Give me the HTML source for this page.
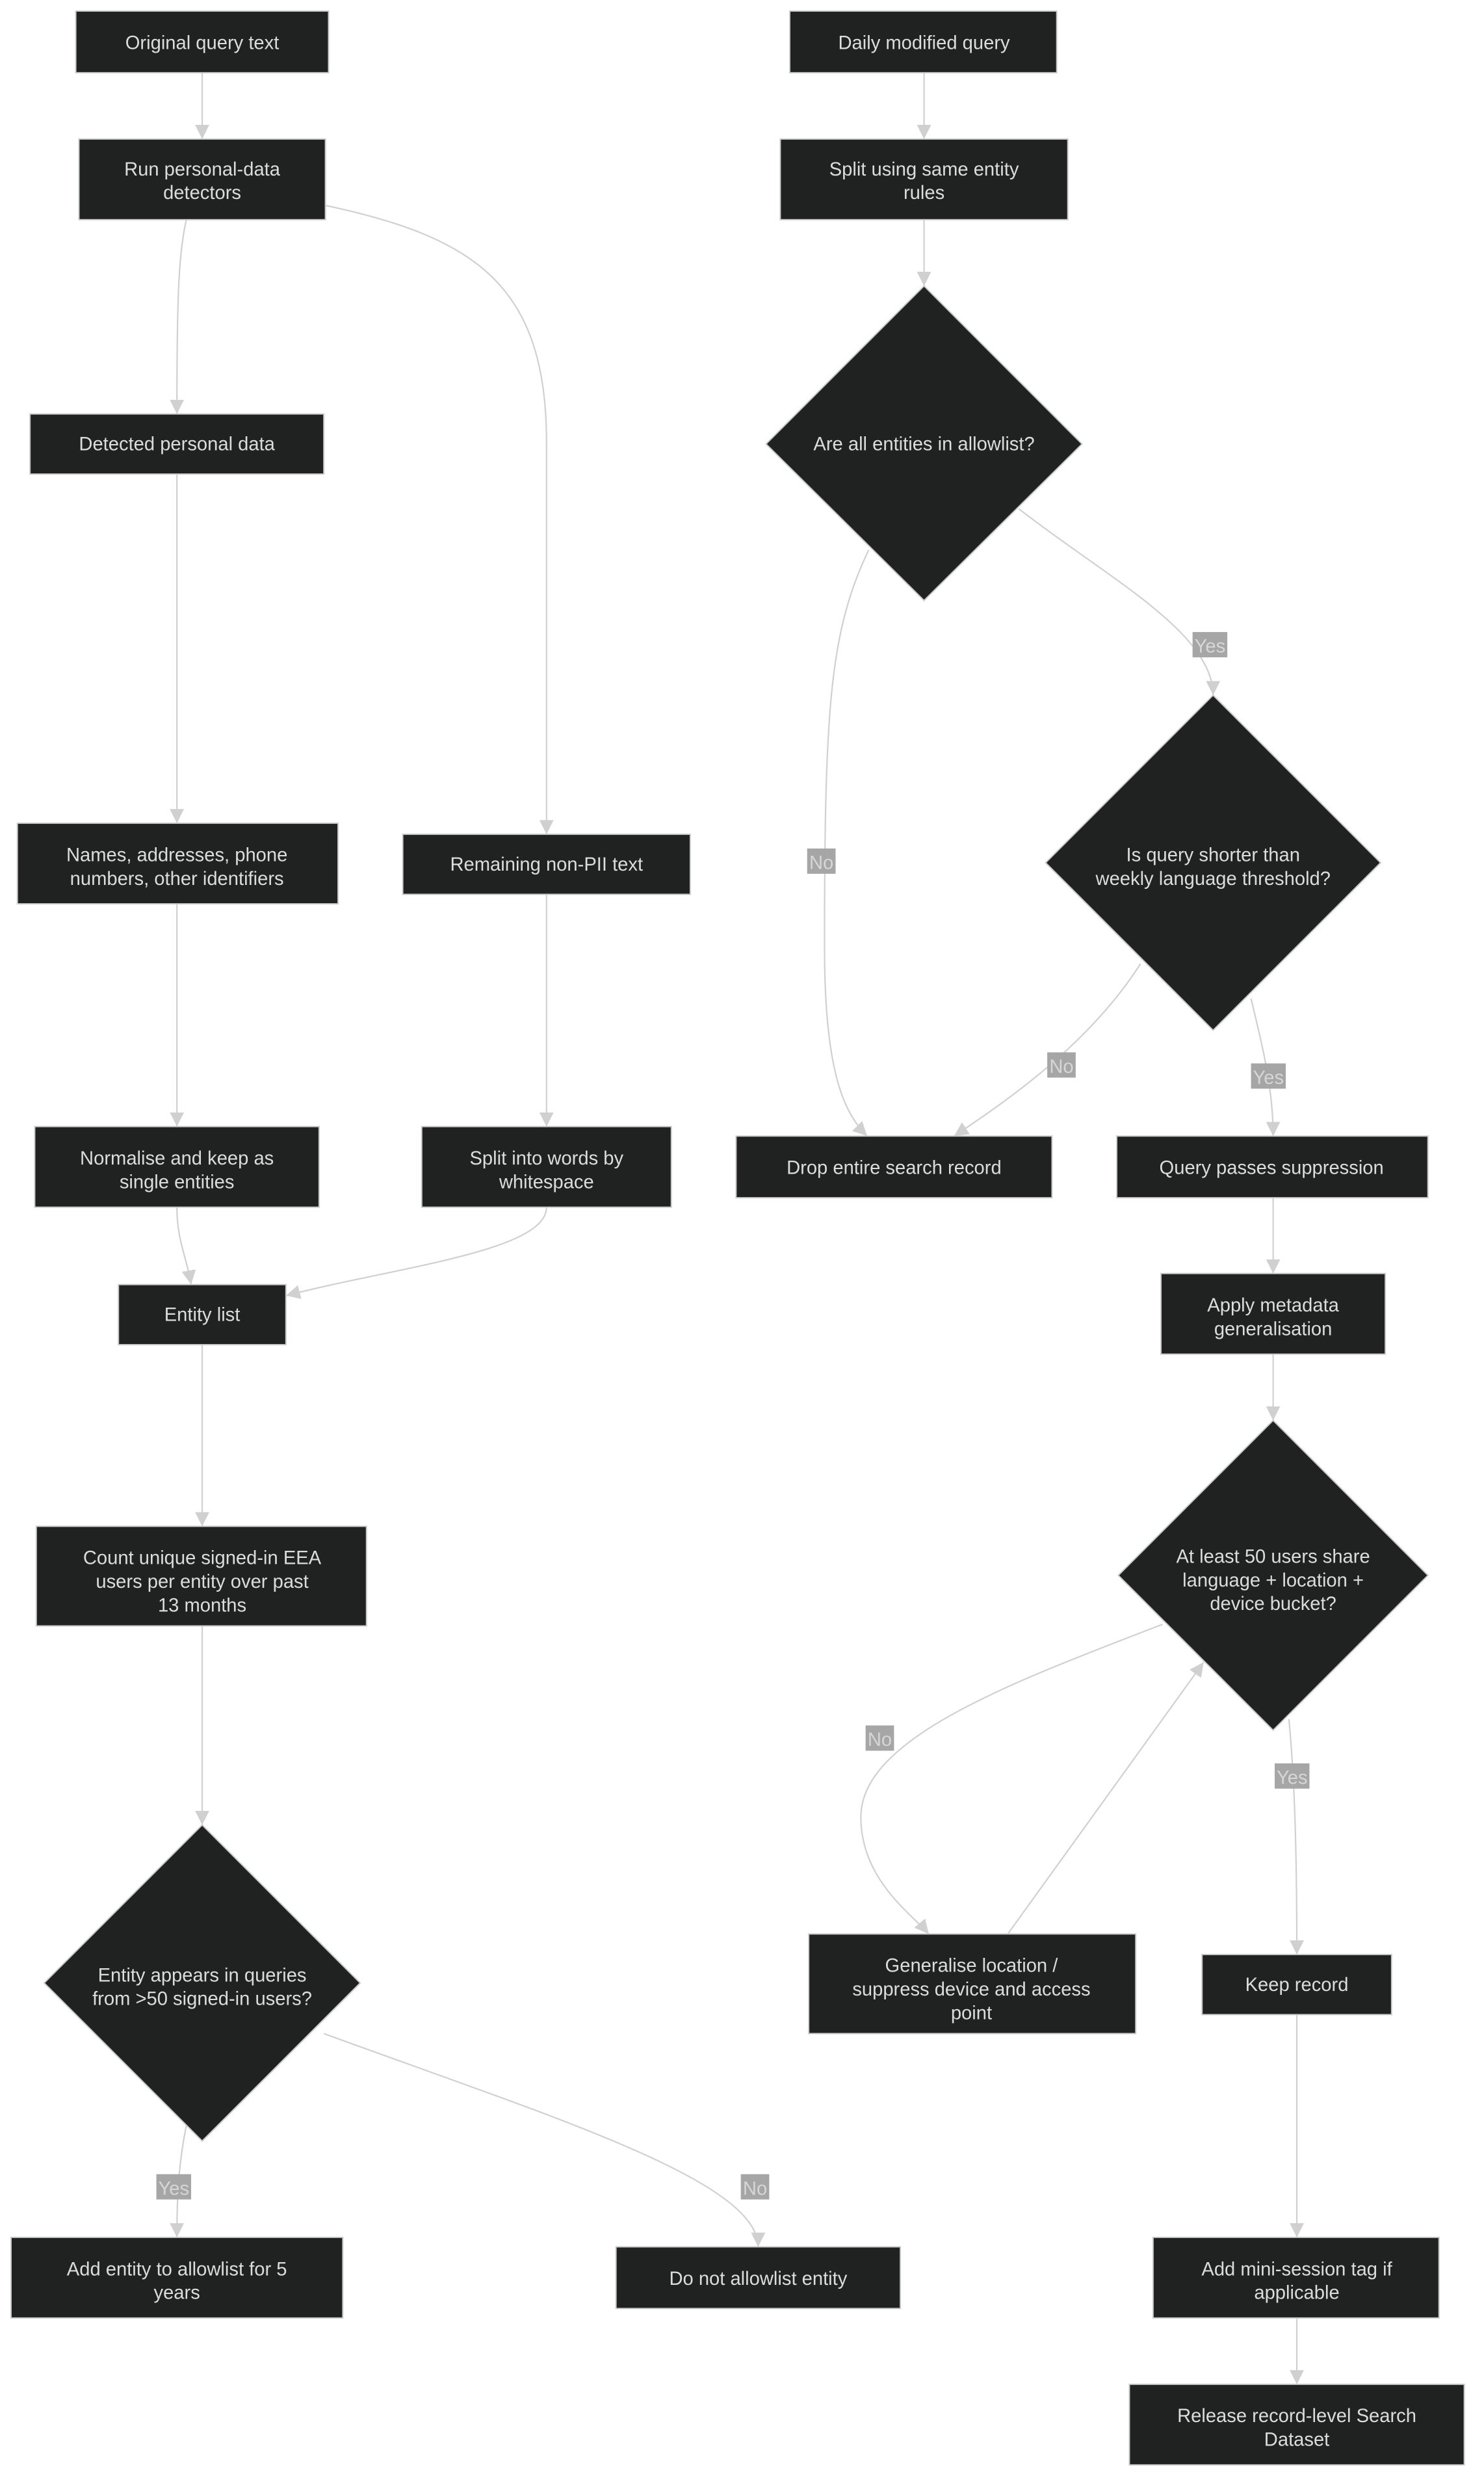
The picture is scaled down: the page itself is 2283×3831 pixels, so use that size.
<!DOCTYPE html>
<html><head><meta charset="utf-8">
<style>
html,body{margin:0;padding:0;background:#fff;}
svg{display:block;}
text{font-family:"Liberation Sans","DejaVu Sans",sans-serif;fill:#dcdcdc;font-size:12px;text-anchor:middle;}
.n{fill:#202221;stroke:#c8c8c8;stroke-width:0.8;}
.e{fill:none;stroke:#d0d0d0;stroke-width:0.9;}
.lb{fill:#a6a6a6;}
.lt{fill:#d6d6d6;font-size:12px;}
</style></head><body>
<svg width="2283" height="3831" viewBox="0 0 939.5 1576.5" xmlns="http://www.w3.org/2000/svg">
<defs>
<marker id="a" markerUnits="userSpaceOnUse" markerWidth="9" markerHeight="9" viewBox="0 0 10 10" refX="10" refY="5" orient="auto">
<path d="M0,0 L10,5 L0,10 z" fill="#d0d0d0"/>
</marker>
</defs>
<rect width="939.5" height="1576.5" fill="#fff"/>

<!-- edges -->
<path class="e" marker-end="url(#a)" d="M128,46 L128,88"/>
<path class="e" marker-end="url(#a)" d="M118,139 C113,160 112,190 112,262"/>
<path class="e" marker-end="url(#a)" d="M206,130 C300,150 346,180 346,280 L346,528"/>
<path class="e" marker-end="url(#a)" d="M112,300 L112,521"/>
<path class="e" marker-end="url(#a)" d="M112,572 L112,713"/>
<path class="e" marker-end="url(#a)" d="M346,566 L346,713"/>
<path class="e" marker-end="url(#a)" d="M112,764 C112,785 118,795 121,813"/>
<path class="e" marker-end="url(#a)" d="M346,764 C346,792 250,802 181,820"/>
<path class="e" marker-end="url(#a)" d="M128,851 L128,966"/>
<path class="e" marker-end="url(#a)" d="M128,1029 L128,1155"/>
<path class="e" marker-end="url(#a)" d="M118,1345 C113,1370 112,1390 112,1416"/>
<path class="e" marker-end="url(#a)" d="M205,1287 C350,1340 480,1380 480,1422"/>

<path class="e" marker-end="url(#a)" d="M585,46 L585,88"/>
<path class="e" marker-end="url(#a)" d="M585,139 L585,181"/>
<path class="e" marker-end="url(#a)" d="M550,348 C525,400 522,450 522,600 C522,680 535,705 549,719"/>
<path class="e" marker-end="url(#a)" d="M645,322 C700,365 768,400 768,440"/>
<path class="e" marker-end="url(#a)" d="M722,610 C690,660 640,695 604,719"/>
<path class="e" marker-end="url(#a)" d="M792,632 C800,665 806,690 806,719"/>
<path class="e" marker-end="url(#a)" d="M806,758 L806,806"/>
<path class="e" marker-end="url(#a)" d="M806,857 L806,899"/>
<path class="e" marker-end="url(#a)" d="M736,1028 C640,1065 545,1100 545,1150 C545,1190 578,1212 588,1224"/>
<path class="e" marker-end="url(#a)" d="M638,1224 L762,1052"/>
<path class="e" marker-end="url(#a)" d="M816,1088 C820,1130 821,1180 821,1237"/>
<path class="e" marker-end="url(#a)" d="M821,1275 L821,1416"/>
<path class="e" marker-end="url(#a)" d="M821,1467 L821,1509"/>

<!-- edge labels -->
<rect class="lb" x="99" y="1376" width="22" height="16"/><text class="lt" x="110" y="1389">Yes</text>
<rect class="lb" x="469" y="1376" width="18" height="16"/><text class="lt" x="478" y="1389">No</text>
<rect class="lb" x="511" y="537" width="18" height="16"/><text class="lt" x="520" y="550">No</text>
<rect class="lb" x="755" y="400" width="22" height="16"/><text class="lt" x="766" y="413">Yes</text>
<rect class="lb" x="663" y="666" width="18" height="16"/><text class="lt" x="672" y="679">No</text>
<rect class="lb" x="792" y="673" width="22" height="16"/><text class="lt" x="803" y="686">Yes</text>
<rect class="lb" x="548" y="1092" width="18" height="16"/><text class="lt" x="557" y="1105">No</text>
<rect class="lb" x="807" y="1116" width="22" height="16"/><text class="lt" x="818" y="1129">Yes</text>

<!-- left nodes -->
<rect class="n" x="48" y="7" width="160" height="39"/><text x="128" y="31">Original query text</text>
<rect class="n" x="50" y="88" width="156" height="51"/><text x="128" y="111">Run personal-data</text><text x="128" y="126">detectors</text>
<rect class="n" x="19" y="262" width="186" height="38"/><text x="112" y="285">Detected personal data</text>
<rect class="n" x="11" y="521" width="203" height="51"/><text x="112" y="545">Names, addresses, phone</text><text x="112" y="560">numbers, other identifiers</text>
<rect class="n" x="255" y="528" width="182" height="38"/><text x="346" y="551">Remaining non-PII text</text>
<rect class="n" x="22" y="713" width="180" height="51"/><text x="112" y="737">Normalise and keep as</text><text x="112" y="752">single entities</text>
<rect class="n" x="267" y="713" width="158" height="51"/><text x="346" y="737">Split into words by</text><text x="346" y="752">whitespace</text>
<rect class="n" x="75" y="813" width="106" height="38"/><text x="128" y="836">Entity list</text>
<rect class="n" x="23" y="966" width="209" height="63"/><text x="128" y="990">Count unique signed-in EEA</text><text x="128" y="1005">users per entity over past</text><text x="128" y="1020">13 months</text>
<polygon class="n" points="128,1155 228,1255 128,1355 28,1255"/><text x="128" y="1254">Entity appears in queries</text><text x="128" y="1269">from &gt;50 signed-in users?</text>
<rect class="n" x="7" y="1416" width="210" height="51"/><text x="112" y="1440">Add entity to allowlist for 5</text><text x="112" y="1455">years</text>
<rect class="n" x="390" y="1422" width="180" height="39"/><text x="480" y="1446">Do not allowlist entity</text>

<!-- right nodes -->
<rect class="n" x="500" y="7" width="169" height="39"/><text x="585" y="31">Daily modified query</text>
<rect class="n" x="494" y="88" width="182" height="51"/><text x="585" y="111">Split using same entity</text><text x="585" y="126">rules</text>
<polygon class="n" points="585,181 685,281 585,380 485,281"/><text x="585" y="285">Are all entities in allowlist?</text>
<polygon class="n" points="768,440 874,546 768,652 662,546"/><text x="768" y="545">Is query shorter than</text><text x="768" y="560">weekly language threshold?</text>
<rect class="n" x="466" y="719" width="200" height="39"/><text x="566" y="743">Drop entire search record</text>
<rect class="n" x="707" y="719" width="197" height="39"/><text x="805" y="743">Query passes suppression</text>
<rect class="n" x="735" y="806" width="142" height="51"/><text x="806" y="830">Apply metadata</text><text x="806" y="845">generalisation</text>
<polygon class="n" points="806,899 904,997 806,1095 708,997"/><text x="806" y="989">At least 50 users share</text><text x="806" y="1004">language + location +</text><text x="806" y="1019">device bucket?</text>
<rect class="n" x="512" y="1224" width="207" height="63"/><text x="615" y="1248">Generalise location /</text><text x="615" y="1263">suppress device and access</text><text x="615" y="1278">point</text>
<rect class="n" x="761" y="1237" width="120" height="38"/><text x="821" y="1260">Keep record</text>
<rect class="n" x="730" y="1416" width="181" height="51"/><text x="821" y="1440">Add mini-session tag if</text><text x="821" y="1455">applicable</text>
<rect class="n" x="715" y="1509" width="212" height="51"/><text x="821" y="1533">Release record-level Search</text><text x="821" y="1548">Dataset</text>
</svg>
</body></html>
